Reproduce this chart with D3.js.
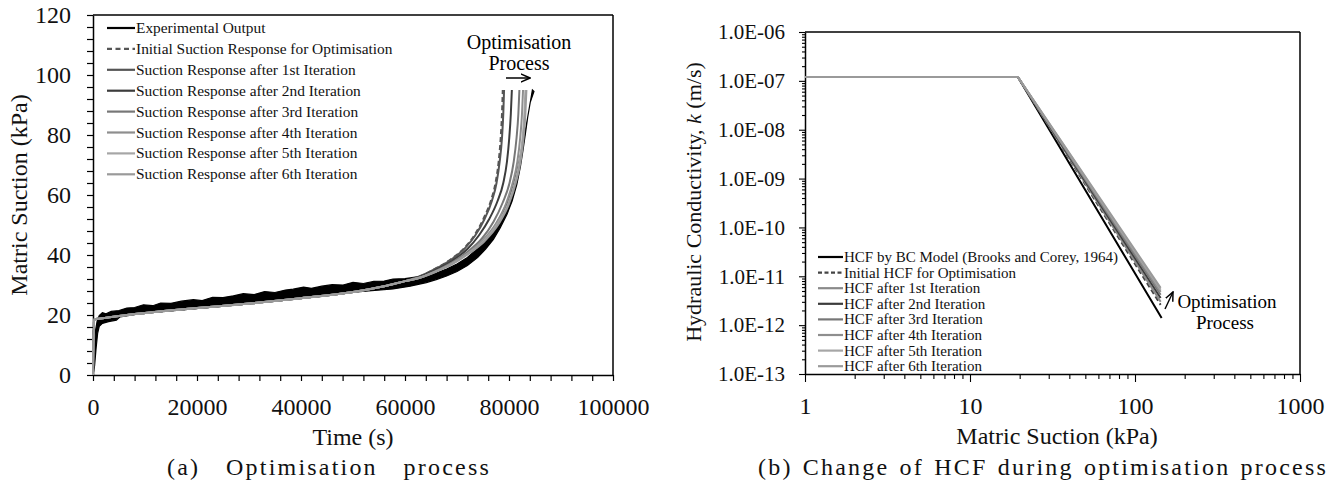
<!DOCTYPE html>
<html><head><meta charset="utf-8">
<script src="https://cdn.jsdelivr.net/npm/d3@7"></script>
<style>
body{margin:0;background:#fff;}
svg{display:block;font-family:"Liberation Serif","Times New Roman",serif;}
</style></head>
<body>
<svg id="c" width="1338" height="484"></svg>
<script>
// ---------------- DATA: (a) Optimisation process ----------------
const leftLegend = ["Experimental Output","Initial Suction Response for Optimisation","Suction Response after 1st Iteration","Suction Response after 2nd Iteration","Suction Response after 3rd Iteration","Suction Response after 4th Iteration","Suction Response after 5th Iteration","Suction Response after 6th Iteration"];
const leftXTicks = [0,20000,40000,60000,80000,100000];
const leftYTicks = [0,20,40,60,80,100,120];
// experimental output: upper and lower envelope of the noisy record [time s, suction kPa]
const expUpper = [[0,0],[150,5],[300,10],[500,15],[800,18],[1200,19.8],[1800,20.8],[2500,20.4],[3500,21.2],[5000,21.5],[6500,22.3],[8000,22.5],[9700,23.4],[11500,23.1],[13000,24.0],[15000,23.9],[17000,24.6],[19300,25.1],[21000,24.8],[23000,25.9],[25000,25.8],[27000,26.4],[28900,27.1],[31000,26.8],[33000,27.8],[35000,27.5],[37000,28.3],[38500,28.6],[40500,29.3],[42000,28.9],[44000,29.6],[46000,30.1],[48100,30.0],[50000,30.9],[52000,30.5],[54000,31.2],[56000,31.3],[57700,32.0],[60000,32.1],[62000,32.6],[64100,33.2],[66000,34.0],[68000,35.3],[70000,37],[72000,39.2],[74000,42.2],[75500,45],[77000,48.8],[78500,53.5],[79600,57.5],[80800,63],[81800,70],[82600,77],[83300,83],[83900,89],[84500,95]];
const expLower = [[0,0],[300,3],[600,9],[900,14],[1200,16.2],[1800,17.2],[3000,17.8],[4500,18.3],[5200,19.4],[7000,19.9],[9700,20.6],[14000,21.2],[19300,22],[24000,22.8],[28900,23.7],[33000,24.5],[38500,25.6],[43000,26.4],[48100,27.3],[53000,28],[57700,28.7],[61000,29.6],[64100,30.8],[66000,31.8],[68000,33],[70000,34.5],[72000,36.5],[74000,39.2],[75500,42],[77000,45.2],[78300,49],[79600,53.5],[80600,58],[81500,63.5],[82200,69.5],[82700,75],[83200,81],[83600,86],[84100,91],[84800,94.5]];
// simulated responses: common early part + individual tails
const simBase = [[0,0],[200,18.5],[1500,18.8],[5000,19.7],[10000,20.7],[20000,22.3],[30000,23.8],[40000,25.6],[50000,27.7],[56000,29.6],[60000,31.3]];
const tailInitial = [[63000,33.0],[66000,35.6],[69000,38.8],[71500,42.5],[73500,47],[75200,52.5],[76500,58],[77400,64],[78000,71],[78400,79],[78650,87],[78800,95]];
const tailIter1 = [[63000,33.0],[66000,35.5],[69000,38.6],[71500,42.2],[73500,46.5],[75300,52],[76700,58],[77600,64],[78200,71],[78650,79],[78900,87],[79050,95]];
const tailIter2 = [[63000,32.8],[66000,35.1],[69000,38],[72000,42],[74200,46.5],[76200,52],[77800,58],[78900,64],[79600,71],[80050,79],[80350,87],[80550,95]];
const tailIter3 = [[63000,32.6],[66000,34.8],[69000,37.5],[72000,41],[74800,45.5],[77000,51],[78800,57.5],[80100,64],[80900,71],[81450,79],[81800,87],[82000,95]];
const tailIter4 = [[63000,32.5],[66000,34.6],[69000,37.2],[72000,40.5],[75000,45],[77500,50.5],[79400,57],[80700,64],[81600,71],[82150,79],[82500,87],[82700,95]];
const tailIter5 = [[63000,32.5],[66000,34.5],[69000,37.0],[72000,40.3],[75200,44.8],[77800,50.5],[79800,57],[81100,64],[82000,71],[82600,79],[82950,87],[83150,95]];
const tailIter6 = [[63000,32.5],[66000,34.5],[69000,36.9],[72000,40.2],[75300,44.6],[78000,50.3],[80000,57],[81300,64],[82200,71],[82800,79],[83150,87],[83350,95]];

// ---------------- DATA: (b) Change of HCF ----------------
const rightLegend = ["HCF by BC Model (Brooks and Corey, 1964)","Initial HCF  for Optimisation","HCF after 1st Iteration","HCF after 2nd Iteration","HCF after 3rd Iteration","HCF after 4th Iteration","HCF after 5th Iteration","HCF after 6th Iteration"];
const rightXTicks = [1,10,100,1000];
const rightYTicks = [1e-13,1e-12,1e-11,1e-10,1e-9,1e-8,1e-7,1e-6];
const rightYLabels = ["1.0E-13","1.0E-12","1.0E-11","1.0E-10","1.0E-09","1.0E-08","1.0E-07","1.0E-06"];
const hcfBC = [[1,1.2e-7],[19.5,1.2e-7],[145,1.4e-12]];
const hcfInitial = [[1,1.2e-7],[19.5,1.2e-7],[143,2.6e-12]];
const hcfIter1 = [[1,1.2e-7],[19.5,1.2e-7],[143,3.0e-12]];
const hcfIter2 = [[1,1.2e-7],[19.5,1.2e-7],[143,3.6e-12]];
const hcfIter3 = [[1,1.2e-7],[19.5,1.2e-7],[143,4.2e-12]];
const hcfIter4 = [[1,1.2e-7],[19.5,1.2e-7],[143,4.8e-12]];
const hcfIter5 = [[1,1.2e-7],[19.5,1.2e-7],[143,5.3e-12]];
const hcfIter6 = [[1,1.2e-7],[19.5,1.2e-7],[143,5.8e-12]];

// ---------------- STYLES ----------------
const leftStyles = [
  {c:"#000",d:null},{c:"#555",d:"5,3"},{c:"#555",d:null},{c:"#3c3c3c",d:null},
  {c:"#777",d:null},{c:"#8e8e8e",d:null},{c:"#a6a6a6",d:null},{c:"#9a9a9a",d:null}];
const rightStyles = [
  {c:"#000",d:null},{c:"#444",d:"5,3"},{c:"#8a8a8a",d:null},{c:"#3c3c3c",d:null},
  {c:"#777",d:null},{c:"#8e8e8e",d:null},{c:"#a6a6a6",d:null},{c:"#9a9a9a",d:null}];

const svg = d3.select("#c");
svg.append("defs").append("marker").attr("id","ah").attr("viewBox","0 0 10 10")
  .attr("refX",9).attr("refY",5).attr("markerWidth",7).attr("markerHeight",7).attr("orient","auto")
  .append("path").attr("d","M0,1 L9,5 L0,9").attr("fill","none").attr("stroke","#000").attr("stroke-width",1.5);

// caption helper: letter-spaced text, word-spacing fitted to a target width
function caption(g, cx, y, str, width){
  const t = g.append("text").attr("x",cx).attr("y",y).attr("dy","0.33em").attr("text-anchor","middle")
    .attr("font-family","Liberation Serif").attr("font-size",24).attr("fill","#111")
    .style("letter-spacing","2.2px").text(str);
  const w = t.node().getComputedTextLength();
  const n = (str.match(/ /g)||[]).length;
  if(n>0 && w<width) t.style("word-spacing", ((width-w)/n)+"px");
}

// ================= LEFT CHART =================
const L = {x0:93,x1:613,y0:15,y1:375};
const xL = d3.scaleLinear().domain([0,100000]).range([L.x0,L.x1]);
const yL = d3.scaleLinear().domain([0,120]).range([L.y1,L.y0]);
const gL = svg.append("g");

const axXL = d3.axisBottom(xL).tickValues(d3.range(0,100001,4000)).tickSize(6).tickSizeOuter(0)
  .tickFormat(d=> leftXTicks.includes(d)? d : "");
const gxL = gL.append("g").attr("transform",`translate(0,${L.y1})`).call(axXL);
const axYL = d3.axisLeft(yL).tickValues(d3.range(0,121,4)).tickSize(6).tickSizeOuter(0)
  .tickFormat(d=> leftYTicks.includes(d)? d : "");
const gyL = gL.append("g").attr("transform",`translate(${L.x0},0)`).call(axYL);
[gxL,gyL].forEach(g=>{
  g.select(".domain").attr("stroke","#000").attr("stroke-width",1.5);
  g.selectAll(".tick line").attr("stroke","#000").attr("stroke-width",1.2);
  g.selectAll("text").attr("font-family","Liberation Serif").attr("font-size",24).attr("fill","#111");
});
gxL.selectAll("text").attr("y",9).attr("dy","1.3em");
gyL.selectAll("text").attr("x",-22);
gL.append("line").attr("x1",L.x0).attr("x2",L.x1).attr("y1",L.y0).attr("y2",L.y0).attr("stroke","#000").attr("stroke-width",1.5);
gL.append("line").attr("x1",L.x1).attr("x2",L.x1).attr("y1",L.y0).attr("y2",L.y1).attr("stroke","#000").attr("stroke-width",1.5);

// experimental band
const lineL = d3.line().x(d=>xL(d[0])).y(d=>yL(d[1]));
gL.append("path").attr("d", lineL(expUpper.concat(expLower.slice().reverse())) + "Z")
  .attr("fill","#000").attr("stroke","#000").attr("stroke-width",1.2);

const simSeries = [tailInitial,tailIter1,tailIter2,tailIter3,tailIter4,tailIter5,tailIter6].map(t=>simBase.concat(t));
const lineLs = d3.line().x(d=>xL(d[0])).y(d=>yL(d[1])).curve(d3.curveMonotoneX);
simSeries.forEach((s,i)=>{
  const st = leftStyles[i+1];
  gL.append("path").attr("d",lineLs(s)).attr("fill","none").attr("stroke",st.c)
    .attr("stroke-width",2).attr("stroke-dasharray",st.d);
});

leftLegend.forEach((t,i)=>{
  const y = 28 + i*20.9, st = leftStyles[i];
  gL.append("line").attr("x1",107).attr("x2",135).attr("y1",y).attr("y2",y).attr("stroke",st.c)
    .attr("stroke-width",2.2).attr("stroke-dasharray",st.d ? "5,3.5" : null);
  gL.append("text").attr("x",136).attr("y",y).attr("dy","0.33em").attr("font-size",15.4).attr("fill","#111").text(t);
});

gL.append("text").attr("x",519).attr("y",42).attr("dy","0.33em").attr("text-anchor","middle").attr("font-size",20).text("Optimisation");
gL.append("text").attr("x",519).attr("y",63).attr("dy","0.33em").attr("text-anchor","middle").attr("font-size",20).text("Process");
gL.append("line").attr("x1",506).attr("x2",530).attr("y1",78).attr("y2",78).attr("stroke","#000").attr("stroke-width",1.5).attr("marker-end","url(#ah)");

gL.append("text").attr("x",(L.x0+L.x1)/2).attr("y",437).attr("dy","0.33em").attr("text-anchor","middle").attr("font-size",24).attr("fill","#111").text("Time (s)");
gL.append("text").attr("transform",`translate(19,195) rotate(-90)`).attr("dy","0.33em").attr("text-anchor","middle").attr("font-size",24).attr("fill","#111").text("Matric Suction (kPa)");
caption(gL, 329, 467, "(a) Optimisation process", 324);

// ================= RIGHT CHART =================
const R = {x0:805,x1:1300,y0:32,y1:374};
const xR = d3.scaleLog().domain([1,1000]).range([R.x0,R.x1]);
const yR = d3.scaleLog().domain([1e-13,1e-6]).range([R.y1,R.y0]);
const gR = svg.append("g");

const xMinor = [], yMinor = [];
[1,10,100].forEach(b=>{ for(let k=1;k<=9;k++) xMinor.push(b*k); });
xMinor.push(1000);
rightYTicks.slice(0,-1).forEach(b=>{ for(let k=1;k<=9;k++) yMinor.push(b*k); });
yMinor.push(1e-6);
const isMajX = d=>rightXTicks.some(v=>Math.abs(v-d)<1e-9);
const isMajY = d=>rightYTicks.some(v=>Math.abs(v-d)/v<1e-6);
const axXR = d3.axisBottom(xR).tickValues(xMinor).tickSize(5).tickSizeOuter(0)
  .tickFormat(d=> isMajX(d)? d3.format("d")(d) : "");
const gxR = gR.append("g").attr("transform",`translate(0,${R.y1})`).call(axXR);
gxR.selectAll(".tick").filter(isMajX).select("line").attr("y2",8);
const axYR = d3.axisLeft(yR).tickValues(yMinor).tickSize(3).tickSizeOuter(0)
  .tickFormat(d=>{ const i = rightYTicks.findIndex(v=>Math.abs(v-d)/v<1e-6); return i>=0? rightYLabels[i] : ""; });
const gyR = gR.append("g").attr("transform",`translate(${R.x0},0)`).call(axYR);
gyR.selectAll(".tick").filter(isMajY).select("line").attr("x2",-6);
[gxR,gyR].forEach(g=>{
  g.select(".domain").attr("stroke","#000").attr("stroke-width",1.5);
  g.selectAll(".tick line").attr("stroke","#000").attr("stroke-width",1.1);
  g.selectAll("text").attr("font-family","Liberation Serif").attr("fill","#111");
});
gxR.selectAll("text").attr("font-size",24).attr("y",9).attr("dy","1.3em");
gyR.selectAll("text").attr("font-size",21).attr("x",-20);
gR.append("line").attr("x1",R.x0).attr("x2",R.x1).attr("y1",R.y0).attr("y2",R.y0).attr("stroke","#000").attr("stroke-width",1.5);
gR.append("line").attr("x1",R.x1).attr("x2",R.x1).attr("y1",R.y0).attr("y2",R.y1).attr("stroke","#000").attr("stroke-width",1.5);

const lineR = d3.line().x(d=>xR(d[0])).y(d=>yR(d[1]));
const hcfSeries = [hcfBC,hcfInitial,hcfIter1,hcfIter2,hcfIter3,hcfIter4,hcfIter5,hcfIter6];
hcfSeries.forEach((s,i)=>{
  const st = rightStyles[i];
  gR.append("path").attr("d",lineR(s)).attr("fill","none").attr("stroke",st.c)
    .attr("stroke-width",2).attr("stroke-dasharray",st.d);
});

rightLegend.forEach((t,i)=>{
  const y = 257 + i*15.6, st = rightStyles[i];
  gR.append("line").attr("x1",818).attr("x2",843).attr("y1",y).attr("y2",y).attr("stroke",st.c)
    .attr("stroke-width",2.2).attr("stroke-dasharray",st.d ? "4,2.5" : null);
  gR.append("text").attr("x",844).attr("y",y).attr("dy","0.33em").attr("font-size",15).attr("fill","#111").text(t);
});

gR.append("line").attr("x1",1165).attr("x2",1173).attr("y1",309).attr("y2",292).attr("stroke","#000").attr("stroke-width",1.4).attr("marker-end","url(#ah)");
gR.append("text").attr("x",1227).attr("y",302).attr("dy","0.33em").attr("text-anchor","middle").attr("font-size",19).text("Optimisation");
gR.append("text").attr("x",1225).attr("y",323).attr("dy","0.33em").attr("text-anchor","middle").attr("font-size",19).text("Process");

gR.append("text").attr("x",1057).attr("y",436).attr("dy","0.33em").attr("text-anchor","middle").attr("font-size",24).attr("fill","#111").text("Matric Suction (kPa)");
const yt = gR.append("text").attr("transform",`translate(694,202) rotate(-90)`).attr("dy","0.33em").attr("text-anchor","middle").attr("font-size",22).attr("fill","#111");
yt.append("tspan").text("Hydraulic Conductivity, ");
yt.append("tspan").attr("font-style","italic").text("k");
yt.append("tspan").text(" (m/s)");
caption(gR, 1043, 467, "(b) Change of HCF during optimisation process", 570);
</script>
</body></html>
